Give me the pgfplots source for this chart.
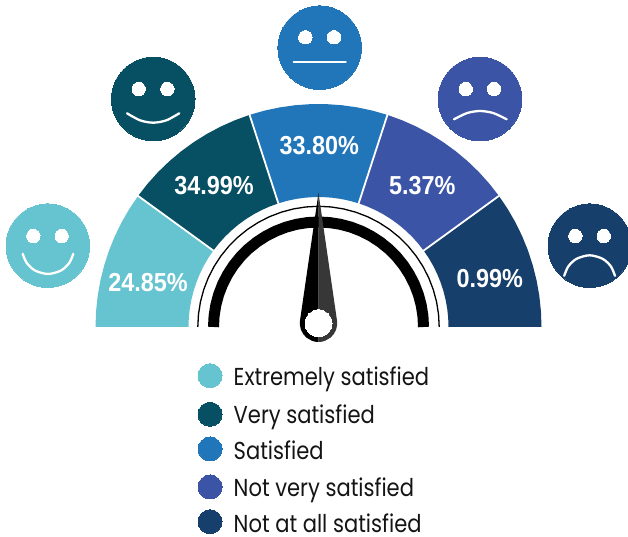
\documentclass[border=0pt]{standalone}
\usepackage{fontspec}
\setmainfont{Poppins}
\newfontfamily\legfont[FakeStretch=0.86]{Poppins}
\newfontfamily\numfont[FakeStretch=0.9]{Liberation Sans}
\usepackage{pgfplots}
\pgfplotsset{compat=1.18}
\definecolor{cA}{HTML}{66C3D0}
\definecolor{cB}{HTML}{074F63}
\definecolor{cC}{HTML}{2175B9}
\definecolor{cD}{HTML}{3C54A5}
\definecolor{cE}{HTML}{173F6B}
\definecolor{needleR}{HTML}{373737}
\tikzset{
  num/.style={font=\numfont\bfseries\fontsize{26bp}{26bp}\selectfont, text=white, inner sep=0pt, anchor=center},
  leg/.style={font=\legfont\fontsize{24.5bp}{26bp}\selectfont, text=black!92, inner sep=0pt, anchor=base west},
  dot/.style={only marks, mark=*, mark size=#1bp},
}
\pgfplotsset{
  dotc/.style={mark options={fill=#1, draw=#1, line width=0pt}},
}
\begin{document}
\begin{tikzpicture}
\path[use as bounding box] (0,0) rectangle (628bp,537bp);
\begin{axis}[
  at={(0,0)}, anchor=south west,
  width=628bp, height=537bp, scale only axis,
  xmin=-318.5, xmax=309.5, ymin=-210, ymax=327,
  hide axis, clip marker paths=true,
  every axis plot/.append style={line join=round},
]
% sectors (angle, radius)
\addplot[fill=cA, draw=none, data cs=polar] coordinates {(180,223)(176,223)(172,223)(168,223)(164,223)(160,223)(156,223)(152,223)(148,223)(144,223)(144,130)(148,130)(152,130)(156,130)(160,130)(164,130)(168,130)(172,130)(176,130)(180,130)} --cycle;
\addplot[fill=cB, draw=none, data cs=polar] coordinates {(144,223)(140,223)(136,223)(132,223)(128,223)(124,223)(120,223)(116,223)(112,223)(108,223)(108,130)(112,130)(116,130)(120,130)(124,130)(128,130)(132,130)(136,130)(140,130)(144,130)} --cycle;
\addplot[fill=cC, draw=none, data cs=polar] coordinates {(108,223)(104,223)(100,223)(96,223)(92,223)(88,223)(84,223)(80,223)(76,223)(72,223)(72,130)(76,130)(80,130)(84,130)(88,130)(92,130)(96,130)(100,130)(104,130)(108,130)} --cycle;
\addplot[fill=cD, draw=none, data cs=polar] coordinates {(72,223)(68,223)(64,223)(60,223)(56,223)(52,223)(48,223)(44,223)(40,223)(36,223)(36,130)(40,130)(44,130)(48,130)(52,130)(56,130)(60,130)(64,130)(68,130)(72,130)} --cycle;
\addplot[fill=cE, draw=none, data cs=polar] coordinates {(36,223)(32,223)(28,223)(24,223)(20,223)(16,223)(12,223)(8,223)(4,223)(0,223)(0,130)(4,130)(8,130)(12,130)(16,130)(20,130)(24,130)(28,130)(32,130)(36,130)} --cycle;
% white spokes
\addplot[white, line width=1.8bp, data cs=polar] coordinates {(144,128)(144,226)};
\addplot[white, line width=1.8bp, data cs=polar] coordinates {(108,128)(108,226)};
\addplot[white, line width=1.8bp, data cs=polar] coordinates {(72,128)(72,226)};
\addplot[white, line width=1.8bp, data cs=polar] coordinates {(36,128)(36,226)};
% dial rings
\addplot[black, line width=1.3bp, data cs=polar] coordinates {(180,120.7)(174,120.7)(168,120.7)(162,120.7)(156,120.7)(150,120.7)(144,120.7)(138,120.7)(132,120.7)(126,120.7)(120,120.7)(114,120.7)(108,120.7)(102,120.7)(96,120.7)(90,120.7)(84,120.7)(78,120.7)(72,120.7)(66,120.7)(60,120.7)(54,120.7)(48,120.7)(42,120.7)(36,120.7)(30,120.7)(24,120.7)(18,120.7)(12,120.7)(6,120.7)(0,120.7)};
\addplot[black, line width=11bp, data cs=polar] coordinates {(180,105)(174,105)(168,105)(162,105)(156,105)(150,105)(144,105)(138,105)(132,105)(126,105)(120,105)(114,105)(108,105)(102,105)(96,105)(90,105)(84,105)(78,105)(72,105)(66,105)(60,105)(54,105)(48,105)(42,105)(36,105)(30,105)(24,105)(18,105)(12,105)(6,105)(0,105)};
% needle
\addplot[fill=black, draw=none] coordinates {(0,134)(-18.52,6.30)(-18.63,2.07)(-17.57,-2.70)(-15.32,-7.03)(-12.02,-10.62)(-6.40,-13.87)(-3.25,-14.72)(0,-15)} --cycle;
\addplot[fill=needleR, draw=none] coordinates {(0,134)(18.52,6.30)(18.63,2.07)(17.57,-2.70)(15.32,-7.03)(12.02,-10.62)(6.40,-13.87)(3.25,-14.72)(0,-15)} --cycle;
\addplot[dot=13.5, dotc=white] coordinates {(0,3.7)};
% faces
\addplot[dot=41.8, dotc=cA] coordinates {(-270.7,81.3)};
\addplot[dot=41.8, dotc=cB] coordinates {(-165.3,228)};
\addplot[dot=41.8, dotc=cC] coordinates {(1.2,279.3)};
\addplot[dot=41.8, dotc=cD] coordinates {(161.5,228)};
\addplot[dot=41.8, dotc=cE] coordinates {(271.3,81.3)};
% eyes
\addplot[dot=6.7, dotc=white] coordinates {(-285.2,91)(-256.8,91)(-179.8,238)(-151.2,238)(-13.2,289.7)(15.5,289.7)(147.2,238)(175.5,238)(256.8,91)(285.2,91)};
% mouths
\addplot[white, line width=2.3bp, line cap=round, smooth] coordinates {(-295.8,73.15)(-291.8,64.1)(-283.5,56.5)(-270.5,53)(-257.5,56.5)(-249.2,64.1)(-245.2,73.15)};
\addplot[white, line width=2.3bp, line cap=round, smooth] coordinates {(-191.5,213.7)(-178.4,206.65)(-165.3,204.3)(-152.2,206.65)(-139.2,213.7)};
\addplot[white, line width=2.3bp, line cap=round] coordinates {(-24.8,265.3)(27.2,265.3)};
\addplot[white, line width=2.3bp, line cap=round, smooth] coordinates {(135.5,207.7)(148.5,213.9)(161.5,216)(174.85,213.9)(188.2,207.7)};
\addplot[white, line width=2.3bp, line cap=round, smooth] coordinates {(245.7,51.15)(249.8,60.6)(258.1,68.2)(271.1,71.7)(284.1,68.2)(292.4,60.6)(296.5,51.15)};
% values
\node[num] at (axis cs:-170.5,44.6) {24.85\%};
\node[num] at (axis cs:-104.5,141) {34.99\%};
\node[num] at (axis cs:0.8,181.3) {33.80\%};
\node[num] at (axis cs:103.8,141) {5.37\%};
\node[num] at (axis cs:171.2,48) {0.99\%};
% legend
\addplot[dot=12, dotc=cA] coordinates {(-108.5,-48.7)};
\addplot[dot=12, dotc=cB] coordinates {(-108.5,-87.3)};
\addplot[dot=12, dotc=cC] coordinates {(-108.5,-122)};
\addplot[dot=12, dotc=cD] coordinates {(-108.5,-160)};
\addplot[dot=12, dotc=cE] coordinates {(-108.5,-194.7)};
\node[leg] at (axis cs:-85,-58.7) {Extremely satisfied};
\node[leg] at (axis cs:-85,-96.3) {Very satisfied};
\node[leg] at (axis cs:-85,-133) {Satisfied};
\node[leg] at (axis cs:-85,-169.7) {Not very satisfied};
\node[leg] at (axis cs:-85,-205.7) {Not at all satisfied};
\end{axis}
\end{tikzpicture}
\end{document}
